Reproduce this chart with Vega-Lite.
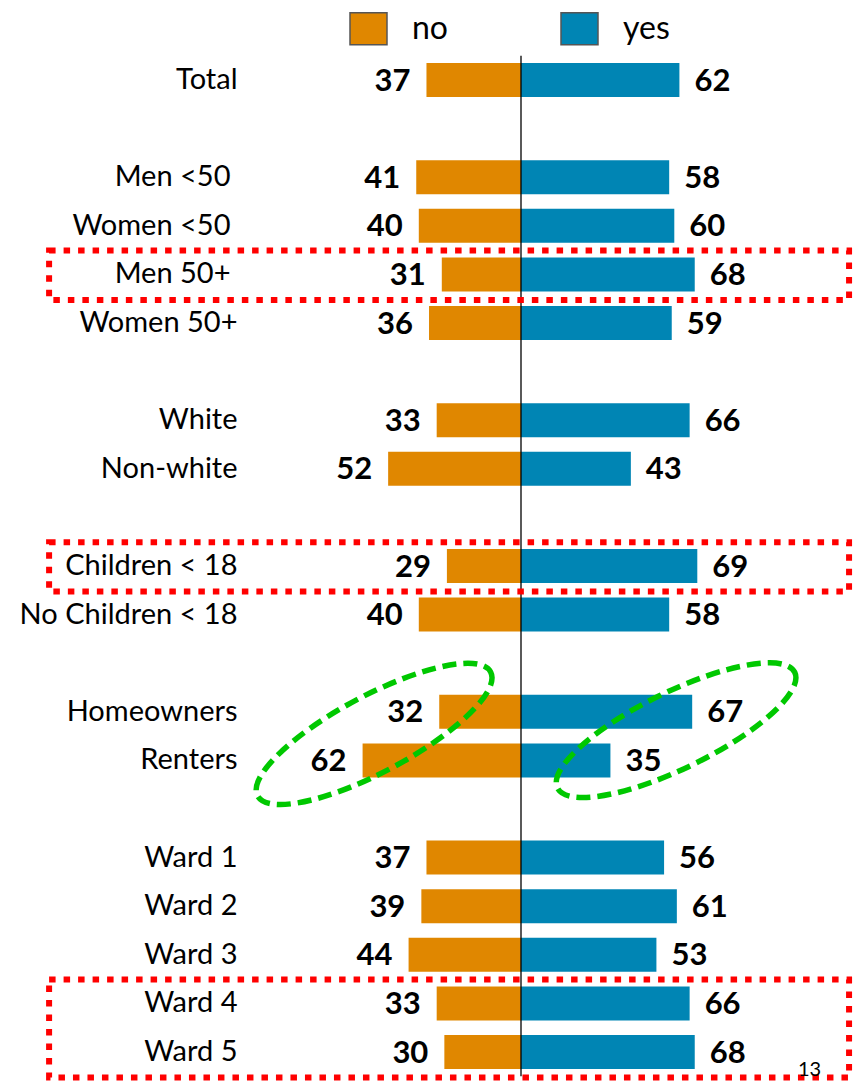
{
  "$schema": "https://vega.github.io/schema/vega-lite/v6.json",
  "width": 861,
  "height": 1020.6,
  "autosize": {"type": "none"},
  "padding": {"left": 0, "top": 55.7, "right": 0, "bottom": 4.7},
  "background": "white",
  "config": {"view": {"stroke": null}, "font": "Lato"},
  "data": {"values": [
    {"group": "Total", "answer": "no", "value": 37},
    {"group": "Total", "answer": "yes", "value": 62},
    {"group": "Men <50", "answer": "no", "value": 41},
    {"group": "Men <50", "answer": "yes", "value": 58},
    {"group": "Women <50", "answer": "no", "value": 40},
    {"group": "Women <50", "answer": "yes", "value": 60},
    {"group": "Men 50+", "answer": "no", "value": 31},
    {"group": "Men 50+", "answer": "yes", "value": 68},
    {"group": "Women 50+", "answer": "no", "value": 36},
    {"group": "Women 50+", "answer": "yes", "value": 59},
    {"group": "White", "answer": "no", "value": 33},
    {"group": "White", "answer": "yes", "value": 66},
    {"group": "Non-white", "answer": "no", "value": 52},
    {"group": "Non-white", "answer": "yes", "value": 43},
    {"group": "Children < 18", "answer": "no", "value": 29},
    {"group": "Children < 18", "answer": "yes", "value": 69},
    {"group": "No Children < 18", "answer": "no", "value": 40},
    {"group": "No Children < 18", "answer": "yes", "value": 58},
    {"group": "Homeowners", "answer": "no", "value": 32},
    {"group": "Homeowners", "answer": "yes", "value": 67},
    {"group": "Renters", "answer": "no", "value": 62},
    {"group": "Renters", "answer": "yes", "value": 35},
    {"group": "Ward 1", "answer": "no", "value": 37},
    {"group": "Ward 1", "answer": "yes", "value": 56},
    {"group": "Ward 2", "answer": "no", "value": 39},
    {"group": "Ward 2", "answer": "yes", "value": 61},
    {"group": "Ward 3", "answer": "no", "value": 44},
    {"group": "Ward 3", "answer": "yes", "value": 53},
    {"group": "Ward 4", "answer": "no", "value": 33},
    {"group": "Ward 4", "answer": "yes", "value": 66},
    {"group": "Ward 5", "answer": "no", "value": 30},
    {"group": "Ward 5", "answer": "yes", "value": 68}
  ]},
  "resolve": {"scale": {"x": "independent"}},
  "layer": [
    {
      "transform": [{"filter": "datum.answer === 'no'"}],
      "mark": {"type": "bar"},
      "encoding": {
        "y": {
          "field": "group", "type": "nominal",
          "scale": {
            "type": "band",
            "domain": ["Total", " ", "Men <50", "Women <50", "Men 50+", "Women 50+", "  ", "White", "Non-white", "   ", "Children < 18", "No Children < 18", "    ", "Homeowners", "Renters", "     ", "Ward 1", "Ward 2", "Ward 3", "Ward 4", "Ward 5"],
            "paddingInner": 0.3, "paddingOuter": 0.15
          },
          "axis": {"orient": "left", "offset": -237, "domain": false, "ticks": false,
            "labelPadding": {"condition": {"test": "indexof(['Men <50', 'Women <50', 'Men 50+'], datum.value) >= 0", "value": 7}, "value": 0},
            "labelFontSize": 29, "labelFont": "Lato", "labelColor": "black", "title": null, "grid": false, "labelLimit": 400}
        },
        "x": {"field": "value", "type": "quantitative", "scale": {"domain": [0, 100], "range": [521, 265.5], "nice": false, "zero": false}, "axis": null},
        "x2": {"datum": 0},
        "color": {
          "field": "answer", "type": "nominal",
          "scale": {"domain": ["no", "yes"], "range": ["#E08700", "#0085B4"]},
          "legend": {"orient": "none", "legendX": 349, "legendY": -46.7, "direction": "horizontal", "title": null, "symbolType": "M-1,-0.865L1,-0.865L1,0.865L-1,0.865Z", "symbolSize": 1369, "symbolStrokeColor": "#555555", "symbolStrokeWidth": 1.5, "symbolOpacity": 1, "labelFontSize": 32, "labelFont": "Lato", "labelColor": "black", "labelOffset": 24, "columnPadding": 109, "padding": 0}
        }
      }
    },
    {
      "transform": [{"filter": "datum.answer === 'yes'"}],
      "mark": {"type": "bar"},
      "encoding": {
        "y": {"field": "group", "type": "nominal"},
        "x": {"field": "value", "type": "quantitative", "scale": {"domain": [0, 100], "range": [521, 776.5], "nice": false, "zero": false}, "axis": null},
        "x2": {"datum": 0},
        "color": {"field": "answer", "type": "nominal"}
      }
    },
    {
      "transform": [{"filter": "datum.answer === 'no'"}],
      "mark": {"type": "text", "align": "right", "baseline": "middle", "dx": -16, "dy": 1.5, "fontSize": 31, "fontWeight": "bold", "font": "Lato", "color": "black"},
      "encoding": {
        "y": {"field": "group", "type": "nominal"},
        "x": {"field": "value", "type": "quantitative", "scale": {"domain": [0, 100], "range": [521, 265.5], "nice": false, "zero": false}, "axis": null},
        "text": {"field": "value", "type": "quantitative"}
      }
    },
    {
      "transform": [{"filter": "datum.answer === 'yes'"}],
      "mark": {"type": "text", "align": "left", "baseline": "middle", "dx": 15, "dy": 1.5, "fontSize": 31, "fontWeight": "bold", "font": "Lato", "color": "black"},
      "encoding": {
        "y": {"field": "group", "type": "nominal"},
        "x": {"field": "value", "type": "quantitative", "scale": {"domain": [0, 100], "range": [521, 776.5], "nice": false, "zero": false}, "axis": null},
        "text": {"field": "value", "type": "quantitative"}
      }
    },
    {
      "data": {"values": [{}]},
      "mark": {"type": "rule", "color": "black", "strokeWidth": 1.3},
      "encoding": {
        "x": {"datum": 0, "type": "quantitative", "scale": {"domain": [0, 100], "range": [521, 776.5], "nice": false, "zero": false}, "axis": null}
      }
    },
    {
      "data": {"values": [
        {"from": "Men 50+", "to": "Men 50+"},
        {"from": "Children < 18", "to": "Children < 18"},
        {"from": "Ward 4", "to": "Ward 5"}
      ]},
      "mark": {"type": "rect", "filled": false, "stroke": "#FF0000", "strokeWidth": 6, "strokeDash": [6.5, 8]},
      "encoding": {
        "y": {"field": "from", "type": "nominal", "bandPosition": -0.2},
        "y2": {"field": "to", "bandPosition": 1.25},
        "x": {"datum": -184.7, "type": "quantitative", "scale": {"domain": [0, 100], "range": [521, 776.5], "nice": false, "zero": false}, "axis": null},
        "x2": {"datum": 128.4}
      }
    },
    {
      "data": {"values": [{}]},
      "mark": {"type": "point", "shape": "M1,0C1,0.1601,0.5523,0.29,0,0.29C-0.5523,0.29,-1,0.1601,-1,0C-1,-0.1601,-0.5523,-0.29,0,-0.29C0.5523,-0.29,1,-0.1601,1,0Z", "size": 69696, "angle": 332, "filled": false, "stroke": "#00C800", "strokeWidth": 5.5, "strokeDash": [14, 7], "opacity": 1},
      "encoding": {
        "x": {"datum": -57.5, "type": "quantitative", "scale": {"domain": [0, 100], "range": [521, 776.5], "nice": false, "zero": false}, "axis": null},
        "y": {"datum": "Homeowners", "type": "nominal", "bandPosition": 1.15}
      }
    },
    {
      "data": {"values": [{}]},
      "mark": {"type": "point", "shape": "M1,0C1,0.1601,0.5523,0.29,0,0.29C-0.5523,0.29,-1,0.1601,-1,0C-1,-0.1601,-0.5523,-0.29,0,-0.29C0.5523,-0.29,1,-0.1601,1,0Z", "size": 69696, "angle": 334, "filled": false, "stroke": "#00C800", "strokeWidth": 5.5, "strokeDash": [14, 7], "opacity": 1},
      "encoding": {
        "x": {"datum": 60.7, "type": "quantitative", "scale": {"domain": [0, 100], "range": [521, 776.5], "nice": false, "zero": false}, "axis": null},
        "y": {"datum": "Homeowners", "type": "nominal", "bandPosition": 1.04}
      }
    },
    {
      "data": {"values": [{}]},
      "mark": {"type": "text", "text": "13", "align": "left", "baseline": "alphabetic", "fontSize": 20, "font": "Lato", "color": "black"},
      "encoding": {
        "x": {"datum": 108.4, "type": "quantitative", "scale": {"domain": [0, 100], "range": [521, 776.5], "nice": false, "zero": false}, "axis": null},
        "y": {"datum": "Ward 5", "type": "nominal", "bandPosition": 1.2}
      }
    }
  ]
}
